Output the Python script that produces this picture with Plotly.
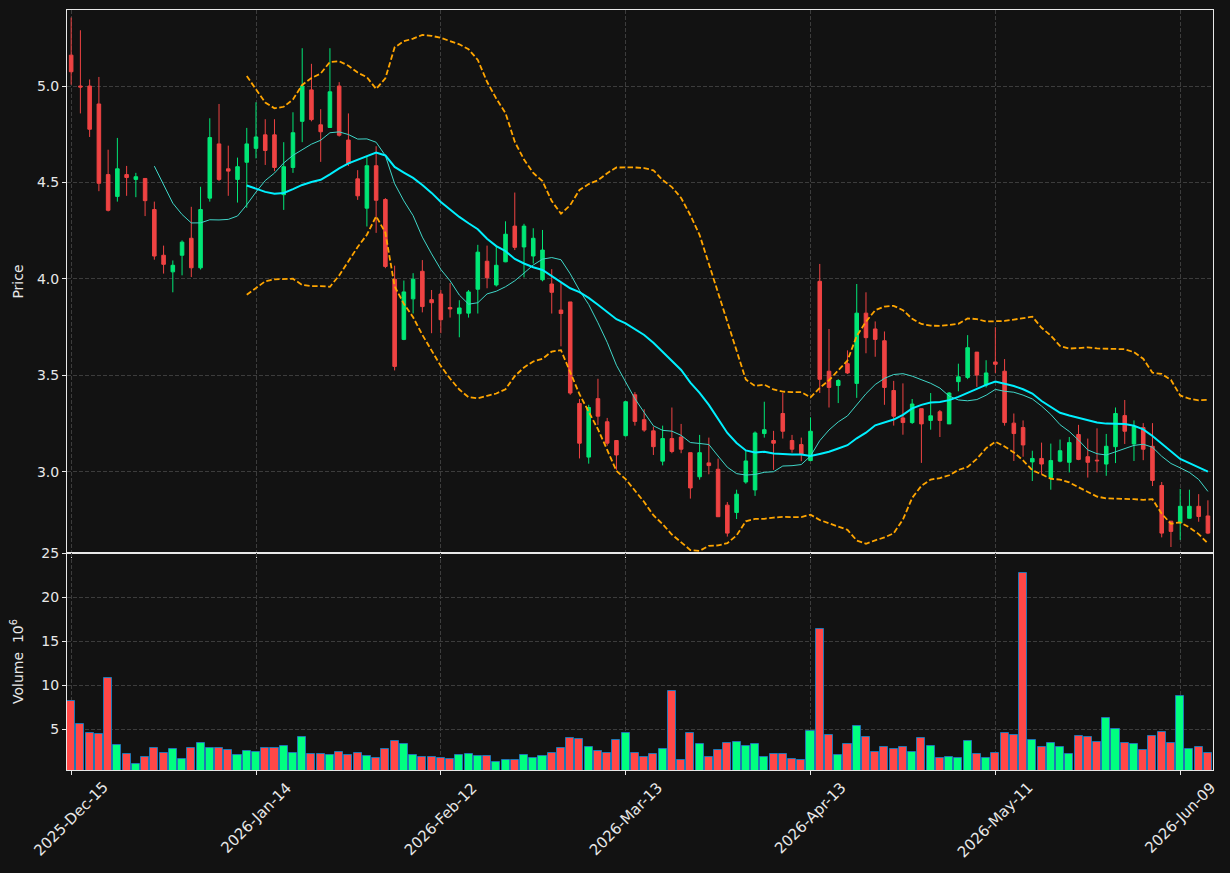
import pandas as pd
import plotly.graph_objects as go
from plotly.subplots import make_subplots

opens = [5.160, 5.000, 5.000, 4.907, 4.541, 4.428, 4.541, 4.516, 4.521, 4.360,
         4.123, 4.037, 4.123, 4.211, 4.058, 4.419, 4.700, 4.571, 4.516, 4.605,
         4.677, 4.747, 4.747, 4.437, 4.578, 4.817, 4.980, 4.799, 4.785, 5.000,
         4.720, 4.519, 4.367, 4.587, 4.412, 3.999, 3.687, 3.897, 4.040, 3.893,
         3.922, 3.852, 3.820, 3.823, 3.947, 4.092, 3.969, 4.089, 4.274, 4.166,
         4.119, 3.996, 3.974, 3.839, 3.881, 3.355, 3.077, 3.380, 3.260, 3.163,
         3.188, 3.400, 3.271, 3.213, 3.056, 3.173, 3.181, 3.100, 2.975, 3.047,
         3.014, 2.828, 2.790, 2.948, 2.907, 3.199, 3.163, 3.303, 3.163, 3.142,
         3.059, 3.988, 3.522, 3.448, 3.561, 3.459, 3.823, 3.741, 3.680, 3.422,
         3.280, 3.256, 3.328, 3.267, 3.312, 3.249, 3.468, 3.490, 3.621, 3.450,
         3.570, 3.522, 3.253, 3.230, 3.052, 3.070, 2.971, 3.056, 3.050, 3.194,
         3.079, 3.061, 3.041, 3.131, 3.292, 3.145, 3.230, 3.133, 2.930, 2.745,
         2.736, 2.760, 2.822, 2.772]
highs = [5.355, 5.289, 5.034, 5.047, 4.670, 4.731, 4.586, 4.550, 4.521, 4.401,
         4.173, 4.096, 4.200, 4.374, 4.478, 4.833, 4.907, 4.691, 4.629, 4.783,
         4.916, 4.828, 4.828, 4.709, 4.864, 5.196, 5.115, 4.880, 5.196, 5.020,
         4.858, 4.564, 4.634, 4.688, 4.419, 4.069, 3.992, 4.030, 4.098, 3.943,
         3.943, 3.979, 3.890, 3.943, 4.177, 4.173, 4.173, 4.299, 4.448, 4.286,
         4.263, 4.254, 4.051, 3.985, 3.881, 3.378, 3.348, 3.483, 3.280, 3.163,
         3.367, 3.414, 3.325, 3.235, 3.240, 3.334, 3.249, 3.100, 3.192, 3.178,
         3.069, 2.844, 2.908, 3.110, 3.210, 3.364, 3.213, 3.409, 3.192, 3.178,
         3.283, 4.078, 3.741, 3.481, 3.630, 3.974, 3.931, 3.780, 3.728, 3.472,
         3.459, 3.378, 3.328, 3.409, 3.321, 3.414, 3.561, 3.709, 3.621, 3.579,
         3.750, 3.585, 3.303, 3.267, 3.110, 3.152, 3.147, 3.168, 3.181, 3.244,
         3.173, 3.226, 3.197, 3.334, 3.373, 3.267, 3.253, 3.253, 2.948, 2.745,
         2.912, 2.908, 2.885, 2.853]
lows = [5.007, 4.858, 4.736, 4.455, 4.350, 4.401, 4.431, 4.424, 4.326, 4.100,
        4.028, 3.931, 4.019, 4.010, 4.049, 4.401, 4.508, 4.431, 4.396, 4.369,
        4.625, 4.591, 4.559, 4.358, 4.550, 4.709, 4.817, 4.607, 4.783, 4.738,
        4.586, 4.410, 4.272, 4.239, 4.056, 3.526, 3.683, 3.821, 3.827, 3.719,
        3.719, 3.800, 3.698, 3.800, 3.821, 3.952, 3.961, 4.087, 4.150, 4.008,
        4.080, 3.988, 3.821, 3.651, 3.400, 3.070, 3.043, 3.244, 3.136, 3.011,
        3.184, 3.240, 3.208, 3.088, 3.034, 3.097, 3.097, 2.862, 2.960, 2.988,
        2.768, 2.665, 2.756, 2.939, 2.876, 3.178, 3.011, 3.173, 3.100, 3.056,
        3.056, 3.409, 3.334, 3.357, 3.508, 3.384, 3.615, 3.597, 3.348, 3.240,
        3.193, 3.249, 3.047, 3.219, 3.181, 3.249, 3.418, 3.481, 3.441, 3.438,
        3.513, 3.240, 3.057, 3.079, 2.953, 2.988, 2.908, 3.050, 2.998, 3.061,
        2.971, 2.998, 2.980, 3.046, 3.145, 3.057, 3.061, 2.927, 2.661, 2.611,
        2.648, 2.760, 2.742, 2.678]
closes = [5.074, 4.995, 4.776, 4.496, 4.356, 4.571, 4.526, 4.530, 4.406, 4.119,
          4.076, 4.071, 4.191, 4.058, 4.360, 4.733, 4.516, 4.559, 4.582, 4.700,
          4.736, 4.666, 4.578, 4.582, 4.758, 5.000, 4.826, 4.763, 4.970, 4.745,
          4.598, 4.431, 4.587, 4.408, 4.065, 3.547, 3.933, 3.999, 3.857, 3.877,
          3.789, 3.845, 3.850, 3.933, 4.139, 4.006, 4.071, 4.232, 4.164, 4.274,
          4.211, 4.150, 3.931, 3.821, 3.409, 3.149, 3.334, 3.289, 3.149, 3.088,
          3.364, 3.262, 3.217, 3.131, 3.173, 3.106, 3.118, 2.917, 3.100, 3.033,
          2.768, 2.683, 2.885, 3.057, 3.202, 3.219, 3.149, 3.211, 3.118, 3.091,
          3.211, 3.480, 3.438, 3.474, 3.513, 3.823, 3.696, 3.687, 3.438, 3.289,
          3.256, 3.352, 3.249, 3.291, 3.267, 3.409, 3.493, 3.644, 3.502, 3.513,
          3.558, 3.256, 3.199, 3.140, 3.070, 3.041, 3.059, 3.110, 3.152, 3.065,
          3.050, 3.058, 3.133, 3.303, 3.211, 3.235, 3.118, 2.956, 2.683, 2.692,
          2.822, 2.822, 2.769, 2.683]
volumes_m = [8.18, 5.57, 4.55, 4.43, 10.80, 3.18, 2.16, 1.02, 1.82, 2.84,
             2.27, 2.73, 1.59, 2.84, 3.41, 2.84, 2.84, 2.61, 2.05, 2.50,
             2.39, 2.84, 2.84, 3.07, 2.27, 4.09, 2.16, 2.16, 2.05, 2.39,
             2.05, 2.27, 1.93, 1.70, 2.73, 3.64, 3.30, 2.05, 1.82, 1.82,
             1.70, 1.59, 2.05, 2.16, 1.93, 1.93, 1.25, 1.48, 1.48, 2.05,
             1.70, 1.93, 2.27, 2.84, 3.98, 3.86, 2.95, 2.50, 2.27, 3.75,
             4.55, 2.27, 1.82, 2.16, 2.73, 9.32, 1.48, 4.55, 3.30, 1.82,
             2.61, 3.41, 3.52, 3.07, 3.30, 1.82, 2.16, 2.16, 1.59, 1.48,
             4.77, 16.36, 4.32, 2.05, 3.30, 5.34, 4.09, 2.39, 2.95, 2.73,
             2.95, 2.39, 3.98, 3.07, 1.70, 1.82, 1.70, 3.64, 2.16, 1.70,
             2.27, 4.55, 4.32, 22.73, 3.75, 2.95, 3.41, 2.95, 2.16, 4.20,
             4.09, 3.52, 6.25, 5.00, 3.41, 3.30, 2.61, 4.20, 4.66, 3.41,
             8.75, 2.73, 2.95, 2.27]

tick_positions = [0, 20, 40, 60, 80, 100, 120]
tick_labels = ["2025-Dec-15", "2026-Jan-14", "2026-Feb-12", "2026-Mar-13",
               "2026-Apr-13", "2026-May-11", "2026-Jun-09"]
price_ticks = [3.0, 3.5, 4.0, 4.5, 5.0]
price_tick_labels = ["3.0", "3.5", "4.0", "4.5", "5.0"]
volume_ticks = [5, 10, 15, 20, 25]

UP = "#00e676"
DOWN = "#ef4343"
VUP = "#00ff80"
VDOWN = "#ff4747"
BG = "#121212"
GRID = "#3c3c3c"
TXT = "#e8e8e8"
FONT = "DejaVu Sans"

x = list(range(len(closes)))
cs = pd.Series(closes)
ma10 = cs.rolling(10).mean()
ma20 = cs.rolling(20).mean()
sd20 = cs.rolling(20).std(ddof=0)
bb_up = ma20 + 2 * sd20
bb_lo = ma20 - 2 * sd20
vcolors = [VUP if c >= o else VDOWN for o, c in zip(opens, closes)]

fig = make_subplots(rows=2, cols=1, shared_xaxes=True, vertical_spacing=0,
                    row_heights=[543, 217])

fig.add_trace(go.Candlestick(
    x=x, open=opens, high=highs, low=lows, close=closes,
    increasing=dict(line=dict(color=UP, width=1), fillcolor=UP),
    decreasing=dict(line=dict(color=DOWN, width=1), fillcolor=DOWN),
    whiskerwidth=0, showlegend=False, hoverinfo="skip"), row=1, col=1)

fig.add_trace(go.Scatter(x=x, y=ma10, mode="lines",
                         line=dict(color="#3fd6c8", width=1), showlegend=False,
                         hoverinfo="skip"), row=1, col=1)
fig.add_trace(go.Scatter(x=x, y=ma20, mode="lines",
                         line=dict(color="#00f0ff", width=2), showlegend=False,
                         hoverinfo="skip"), row=1, col=1)
for band in (bb_up, bb_lo):
    fig.add_trace(go.Scatter(x=x, y=band, mode="lines",
                             line=dict(color="#ffa500", width=1.8, dash="5.5px,2.5px"),
                             showlegend=False, hoverinfo="skip"), row=1, col=1)

fig.add_trace(go.Bar(x=x, y=volumes_m, width=0.87,
                     marker=dict(color=vcolors, line=dict(color="#1f77b4", width=1)),
                     showlegend=False, hoverinfo="skip"), row=2, col=1)

axis_common = dict(showline=True, mirror=True, linecolor=TXT, linewidth=1,
                   showgrid=True, gridcolor=GRID, griddash="4px,2px", gridwidth=1,
                   zeroline=False, ticks="outside", ticklen=4, tickcolor=TXT,
                   automargin=False,
                   tickfont=dict(family=FONT, size=14, color=TXT))

fig.update_xaxes(**axis_common, range=[-0.45, 123.55], tickmode="array",
                 tickvals=tick_positions, ticktext=tick_labels,
                 showticklabels=False, rangeslider_visible=False)

fig.update_yaxes(**axis_common)
fig.update_yaxes(range=[2.58, 5.394], tickvals=price_ticks, ticktext=price_tick_labels,
                 title=dict(text="Price", font=dict(family=FONT, size=14, color=TXT), standoff=10),
                 row=1, col=1)
fig.update_yaxes(range=[0.36, 25.0], tickvals=volume_ticks,
                 title=dict(text="Volume  10<sup>6</sup>", font=dict(family=FONT, size=14, color=TXT), standoff=14),
                 row=2, col=1)

# Rotated date labels centred on their ticks (matplotlib style)
for pos, lab in zip(tick_positions, tick_labels):
    fig.add_annotation(x=pos, xref="x2", y=0, yref="y2 domain", text=lab,
                       showarrow=False, textangle=-45, xanchor="center", yanchor="top",
                       yshift=-6, font=dict(family=FONT, size=15, color=TXT))

fig.update_layout(width=1230, height=873,
                  margin=dict(l=67, r=17, t=10, b=103),
                  paper_bgcolor=BG, plot_bgcolor=BG,
                  font=dict(family=FONT, size=14, color=TXT),
                  bargap=0, boxgap=0.45)

fig.write_html("out.html")
